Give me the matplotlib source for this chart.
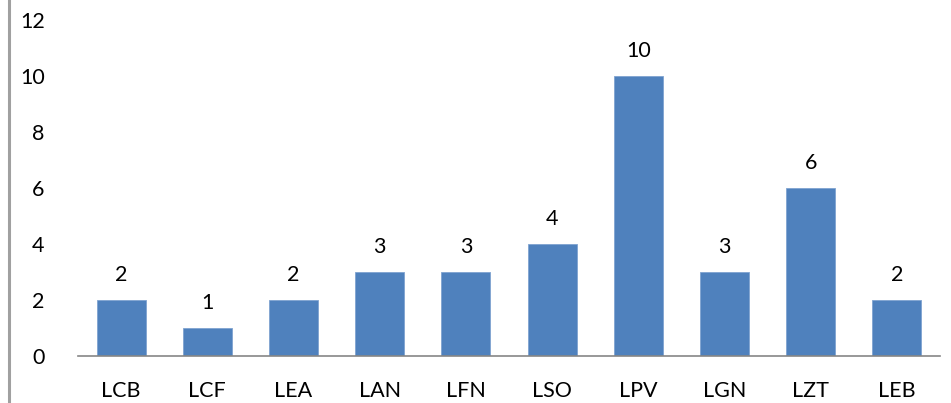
import matplotlib.pyplot as plt
from matplotlib.lines import Line2D

categorias = ["LCB", "LCF", "LEA", "LAN", "LFN", "LSO", "LPV", "LGN", "LZT", "LEB"]
valores = [2, 1, 2, 3, 3, 4, 10, 3, 6, 2]

plt.rcParams['font.family'] = ['Lato', 'DejaVu Sans']

fig = plt.figure(figsize=(9.51, 4.03), dpi=100)
ax = fig.add_axes([78 / 951, 1 - 356 / 403, (940 - 78) / 951, (356 - 20) / 403])

barras = ax.bar(range(len(categorias)), valores, width=0.57, color="#4F81BD",
                edgecolor="#7FA3D0", linewidth=0.6)
for i, v in enumerate(valores):
    ax.text(i, v + 0.55, str(v), ha="center", va="bottom", fontsize=15.5)

ax.set_xlim(-0.5, len(categorias) - 0.5)
ax.set_ylim(0, 12)
ax.set_yticks(range(0, 13, 2))
ax.set_xticks(range(len(categorias)))
ax.set_xticklabels(categorias)
ax.tick_params(axis="both", length=0, labelsize=15.5)
ax.tick_params(axis="y", pad=24)
ax.tick_params(axis="x", pad=18)

for lado in ["top", "right", "left"]:
    ax.spines[lado].set_visible(False)
ax.spines["bottom"].set_color("#868686")
ax.spines["bottom"].set_linewidth(1.2)

# borde izquierdo del gráfico
fig.add_artist(Line2D([8.5 / 951, 8.5 / 951], [0, 1], color="#A0A0A0", linewidth=2.2))

fig.savefig("out.png", dpi=100)
